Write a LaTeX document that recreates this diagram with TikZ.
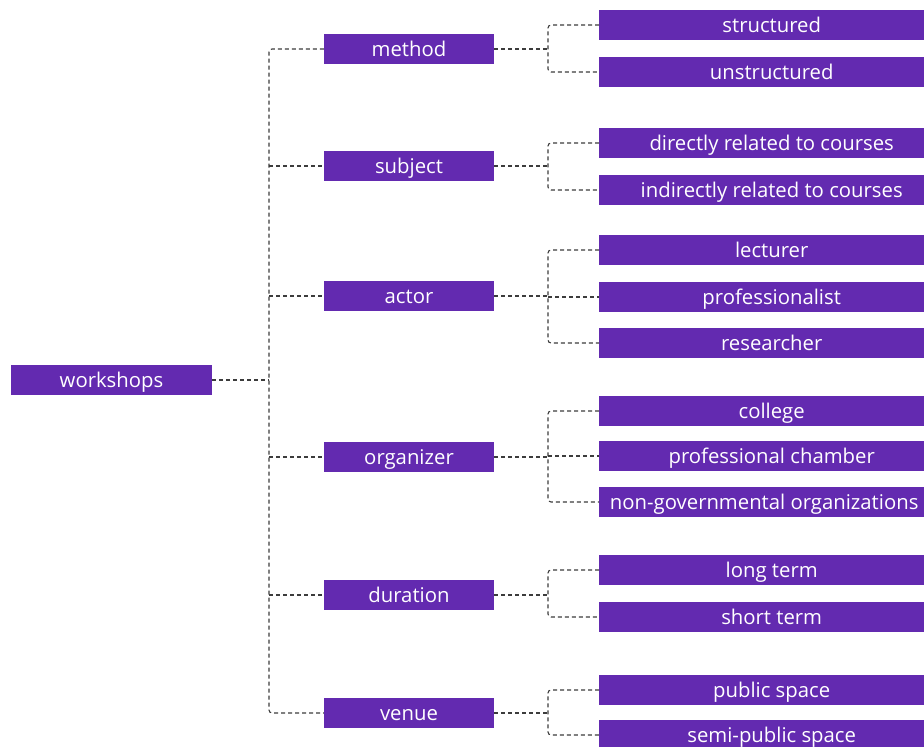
\documentclass[tikz,border=0pt]{standalone}
\usepackage{fontspec}
\setmainfont{Open Sans}
\usetikzlibrary{calc}
\definecolor{boxpurple}{RGB}{99,42,176}
\definecolor{linkgray}{RGB}{60,60,60}

\begin{document}
\begin{tikzpicture}[x=1pt,y=-1pt,
  box/.style={fill=boxpurple,text=white,minimum height=30pt,inner sep=0pt,
    text height=18pt,text depth=4pt,font=\fontsize{20.3}{22}\selectfont},
  midbox/.style={box,minimum width=170pt},
  leafbox/.style={box,minimum width=345pt,anchor=west},
  link/.style={draw=linkgray,dash pattern=on 4pt off 3pt,line width=1.1pt,rounded corners=3pt}]
\clip (0,0) rectangle (924,747);

% root
\node[box,minimum width=201pt] (workshops) at (111.5,380) {workshops};

% second level
\foreach \name/\y in {method/49,subject/166,actor/296,organizer/457,duration/595,venue/713}
  \node[midbox] (\name) at (409,\y) {\name};

% leaves
\foreach \name/\y/\txt in {structured/25/structured, unstructured/72/unstructured,
    directly/143/directly related to courses, indirectly/190/indirectly related to courses,
    lecturer/250/lecturer, professionalist/297/professionalist, researcher/343/researcher,
    college/411/college, chamber/456/professional chamber,
    longterm/570/long term, shortterm/617/short term,
    public/690/public space, semipublic/735/semi-public space}
  \node[leafbox] (\name) at (599,\y) {\txt};
\node[leafbox,minimum width=330pt] (ngo) at (599,502) {non-governmental organizations};

% trunk from the root
\coordinate (trunk) at (269,380);
\coordinate (buscol) at (548,0);
\draw[link] (workshops.east) -- (trunk);
\draw[link] (method.west) -| (trunk) |- (venue.west);
\foreach \name in {subject,actor,organizer,duration}
  \draw[link] (trunk |- \name.west) -- (\name.west);

% buses to the leaves
\foreach \p/\first/\last in {method/structured/unstructured, subject/directly/indirectly,
    actor/lecturer/researcher, organizer/college/ngo,
    duration/longterm/shortterm, venue/public/semipublic}{
  \draw[link] (\p.east) -- (\p.east -| buscol);
  \draw[link] (\first.west) -| (\p.east -| buscol) |- (\last.west);
}
\foreach \mid in {professionalist,chamber}
  \draw[link] (buscol |- \mid.west) -- (\mid.west);
\end{tikzpicture}
\end{document}
